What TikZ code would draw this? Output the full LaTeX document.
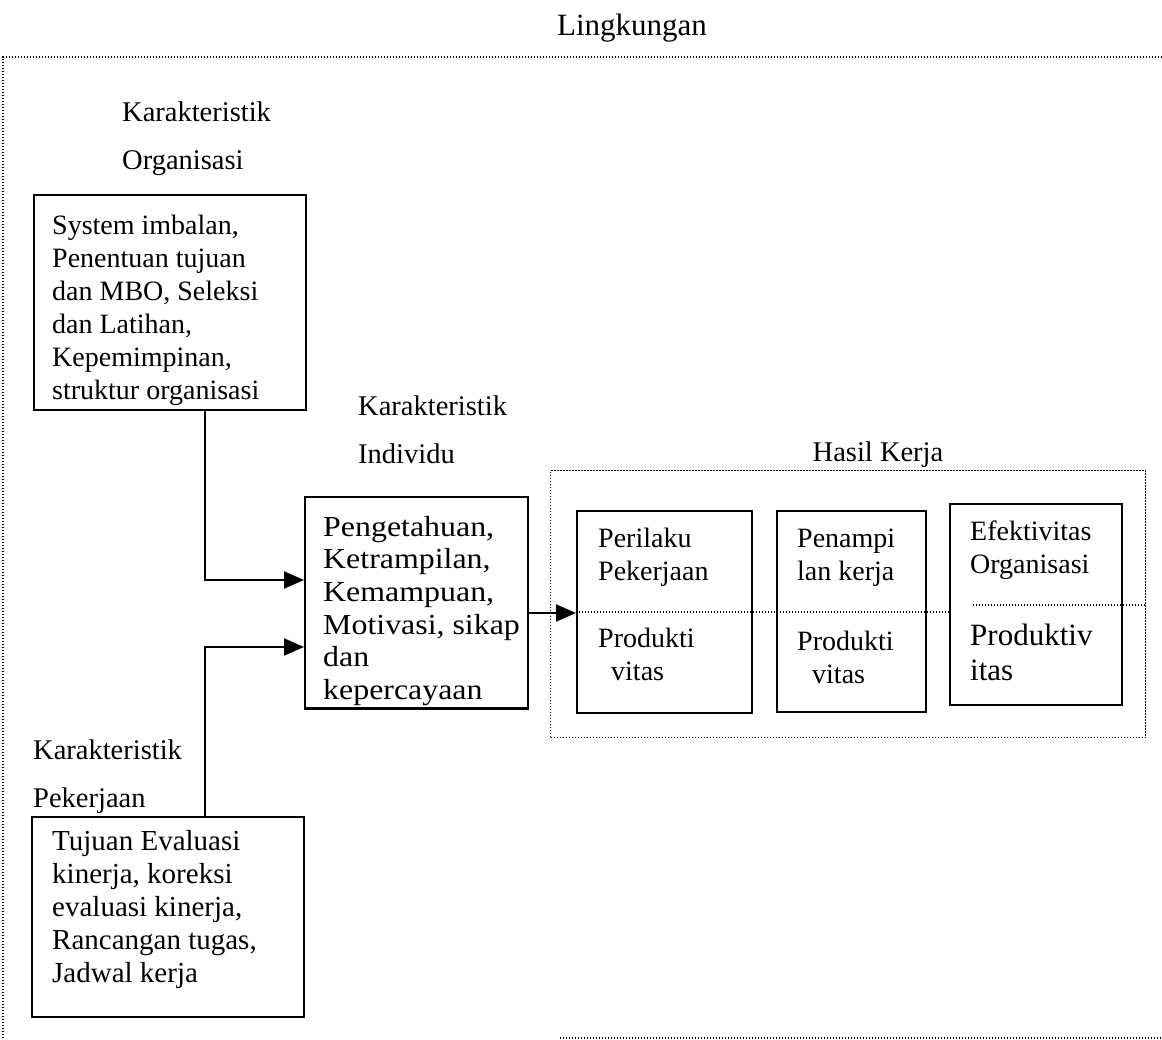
\documentclass[tikz,border=0pt]{standalone}
\usepackage{fontspec}
\setmainfont{Liberation Serif}
\newfontfamily\widefont[FakeStretch=1.1]{Liberation Serif}
\usetikzlibrary{arrows.meta}
\begin{document}
\begin{tikzpicture}[x=1pt,y=-1pt,
  box/.style={draw, line width=2.2pt, anchor=north west, inner sep=0pt},
  dotl/.style={line width=1.2pt, dash pattern=on 1.2pt off 1.8pt},
  conn/.style={line width=2pt, -{Triangle[length=20pt,width=17pt]}},
  t28/.style={anchor=north west, inner sep=0pt, align=left, font=\fontsize{28}{33}\selectfont, yshift=23.1pt},
  t29/.style={anchor=north west, inner sep=0pt, align=left, font=\fontsize{29}{33}\selectfont, yshift=23.1pt},
  t32/.style={anchor=north west, inner sep=0pt, align=left, font=\widefont\fontsize{29}{32.6}\selectfont, yshift=22.82pt},
  t31/.style={anchor=north west, inner sep=0pt, align=left, font=\fontsize{31}{35}\selectfont, yshift=24.5pt},
  lab/.style={anchor=north west, inner sep=0pt, align=left, font=\fontsize{28.5}{48.5}\selectfont, yshift=33.95pt},
  ttl/.style={anchor=base, inner sep=0pt, font=\fontsize{31}{36}\selectfont},
]
\fill[white] (0,0) rectangle (1162,1040);
\useasboundingbox (0,0) rectangle (1162,1040);

% outer environment frame
\draw[dotl] (1162,57) -- (3,57) -- (3,1040);
\draw[dotl] (560,1038) -- (1162,1038);
\node[ttl] (ling) at (632,36) {Lingkungan};

% organisation characteristics
\node[lab] (orglab) at (122,121) {\strut Karakteristik\\Organisasi};
\node[box, minimum width=272pt, minimum height=215pt] (org) at (33,194) {};
\node[t28] (orgtxt) at (52,234) {\strut System imbalan,\\Penentuan tujuan\\dan MBO, Seleksi\\dan Latihan,\\Kepemimpinan,\\struktur organisasi};

% individual characteristics
\node[lab] (indlab) at (358,415) {\strut Karakteristik\\Individu};
\node[box, minimum width=223pt, minimum height=211pt] (ind) at (304,496) {};
\begin{scope}
  \clip (ind.north west) rectangle (ind.south east);
  \node[t32] (indtxt) at (323,536) {\strut Pengetahuan,\\Ketrampilan,\\Kemampuan,\\Motivasi, sikap\\dan\\kepercayaan};
\end{scope}
\draw[line width=2.2pt] (ind.south west) -- (ind.south east);

% job characteristics
\node[lab] (joblab) at (33,759) {\strut Karakteristik\\Pekerjaan};
\node[box, minimum width=272pt, minimum height=200pt] (job) at (31,816) {};
\node[t29] (jobtxt) at (52,850) {\strut Tujuan Evaluasi\\kinerja, koreksi\\evaluasi kinerja,\\Rancangan tugas,\\Jadwal kerja};

% results
\node[ttl, font=\fontsize{28.5}{33}\selectfont] (hasillab) at (878,461) {Hasil Kerja};
\node[box, dotl, minimum width=595pt, minimum height=267pt] (hasil) at (550,470) {};
\node[box, minimum width=175pt, minimum height=202pt] (p1) at (576,510) {};
\node[box, minimum width=149pt, minimum height=201pt] (p2) at (776,510) {};
\node[box, minimum width=172pt, minimum height=201pt] (p3) at (949,503) {};

\coordinate (d1) at (0,612);
\coordinate (d2) at (0,605);
\coordinate (d2s) at (973,0);
\draw[dotl] (p1.west |- d1) -- (p3.west |- d1);
\draw[dotl] (d2s |- d2) -- (hasil.east |- d2);

\node[t28] (p1a) at (598,547) {\strut Perilaku\\Pekerjaan};
\node[t28] (p1b) at (598,647) {\strut Produkti\\\hspace*{13pt}vitas};
\node[t28] (p2a) at (797,547) {\strut Penampi\\lan kerja};
\node[t28] (p2b) at (797,650) {\strut Produkti\\\hspace*{15pt}vitas};
\node[t28] (p3a) at (970,540) {\strut Efektivitas\\Organisasi};
\node[t31] (p3b) at (970,645) {\strut Produktiv\\itas};

% connectors
\coordinate (j1) at (205,580);
\coordinate (j2) at (205,647);
\coordinate (j3) at (0,613);
\draw[conn] (j1 |- org.south) |- (ind.west |- j1);
\draw[conn] (j2 |- job.north) |- (ind.west |- j2);
\draw[conn] (ind.east |- j3) -- (p1.west |- j3);
\end{tikzpicture}
\end{document}
